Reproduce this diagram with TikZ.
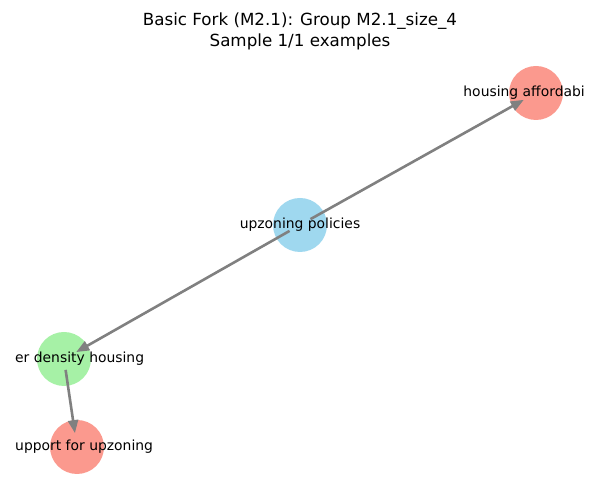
\documentclass[tikz,border=0pt]{standalone}
\usepackage{fontspec}
\setmainfont{DejaVu Sans}
\usetikzlibrary{calc,arrows.meta}
\definecolor{salmonc}{HTML}{FA8072}
\definecolor{skyc}{HTML}{87CEEB}
\definecolor{greenc}{HTML}{90EE90}
\definecolor{edgec}{HTML}{808080}
\tikzset{
  vert/.style={circle, minimum size=54pt, inner sep=0pt, fill opacity=0.8, draw=none},
  lbl/.style={inner sep=0pt, font=\fontsize{13.9}{16}\selectfont, text height=10.5pt, text depth=3pt},
  conn/.style={draw=edgec, line width=2.6pt, -{Triangle[length=13pt,width=10pt]}},
}
\begin{document}
\begin{tikzpicture}[x=1pt,y=1pt]
\useasboundingbox (0,0) rectangle (600,500);
\node[font=\fontsize{16.7}{21}\selectfont, align=center] (title) at (300,469) {Basic Fork (M2.1): Group M2.1\_size\_4\\Sample 1/1 examples};
\node[vert, fill=salmonc] (h) at (536,407) {};
\node[vert, fill=skyc] (u) at (300,275) {};
\node[vert, fill=greenc] (g) at (64,141) {};
\node[vert, fill=salmonc] (s) at (77,53) {};
\draw[conn] ($(u)!12pt!(h)$) -- ($(h)!14pt!(u)$);
\draw[conn] ($(u)!12pt!(g)$) -- ($(g)!14pt!(u)$);
\draw[conn] ($(g)!11pt!(s)$) -- ($(s)!14pt!(g)$);
\node[lbl] (lu) at (u) {upzoning policies};
\node[lbl, anchor=east] (lh) at (585,407) {housing affordabi};
\node[lbl, anchor=west] (lg) at (15,141) {er density housing};
\node[lbl, anchor=west] (ls) at (15,53) {upport for upzoning};
\end{tikzpicture}
\end{document}
